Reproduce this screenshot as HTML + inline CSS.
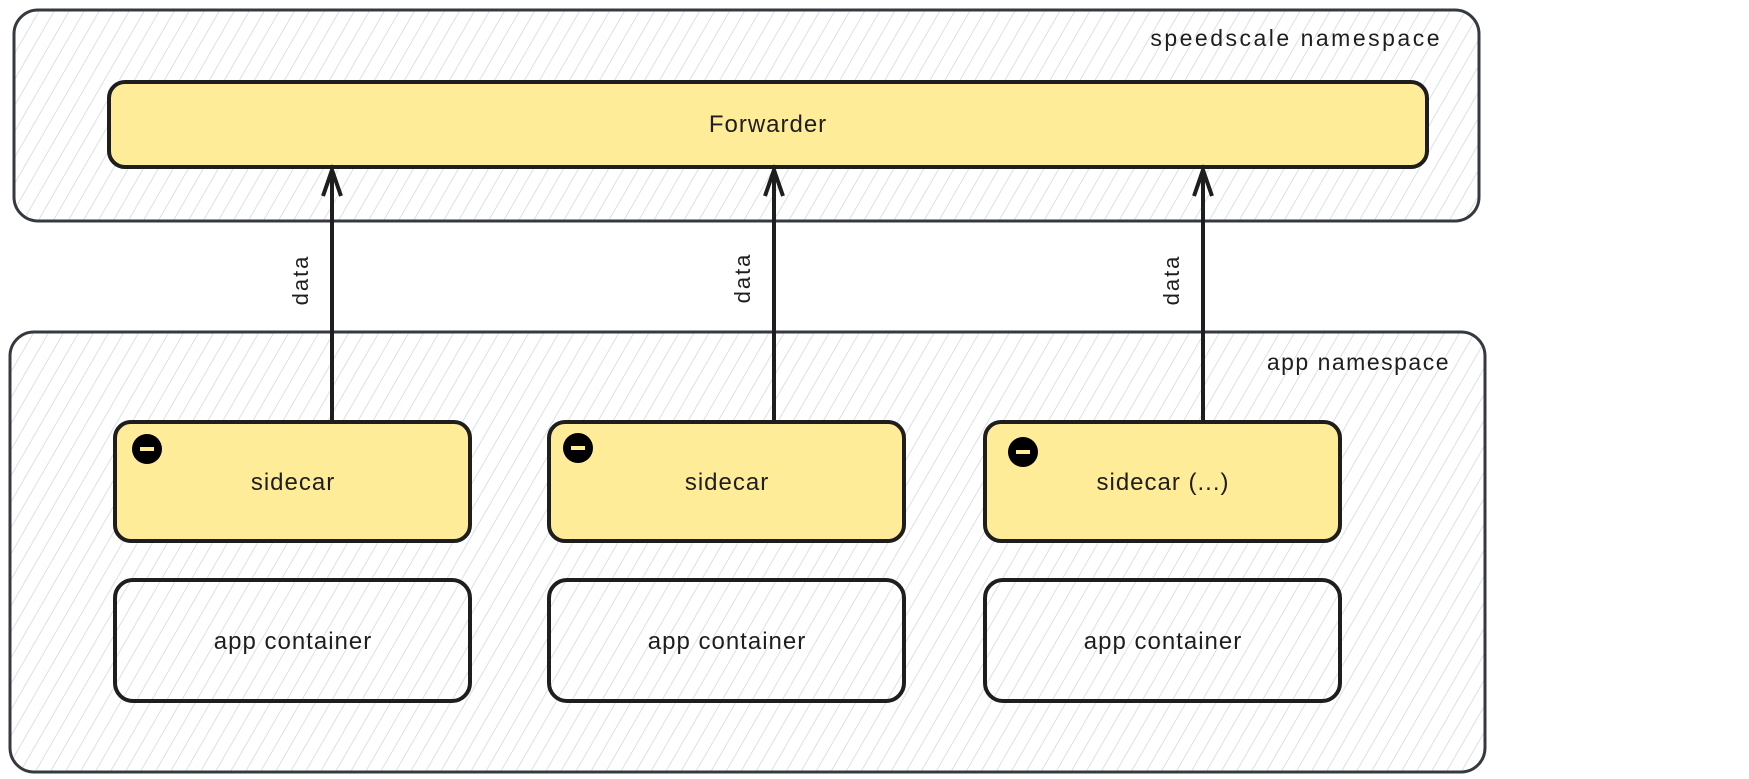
<!DOCTYPE html>
<html><head><meta charset="utf-8"><style>
html,body{margin:0;padding:0;background:#fff;}
svg{display:block;}
text{font-family:"Liberation Sans",sans-serif;fill:#1e1e1e;}
</style></head><body>
<svg width="1749" height="779" viewBox="0 0 1749 779" xmlns="http://www.w3.org/2000/svg">
<defs>
<pattern id="h" patternUnits="userSpaceOnUse" width="13" height="13" patternTransform="rotate(30)">
<line x1="0" y1="0" x2="0" y2="13" stroke="#d4d8dc" stroke-width="1.6"/>
</pattern>
</defs>
<g stroke="#343a40" stroke-width="3">
<rect x="14" y="10" width="1465" height="211" rx="24" fill="url(#h)"/>
<rect x="10" y="332" width="1475" height="440" rx="24" fill="url(#h)"/>
</g>
<text x="1442" y="46" font-size="23" text-anchor="end" letter-spacing="2.5">speedscale namespace</text>
<text x="1450" y="370" font-size="23" text-anchor="end" letter-spacing="1.5">app namespace</text>
<rect x="109" y="82" width="1318" height="85" rx="16" fill="#ffec99" stroke="#1e1e1e" stroke-width="4"/>
<text x="768" y="132" font-size="24" text-anchor="middle" letter-spacing="1">Forwarder</text>
<g stroke="#1e1e1e" stroke-width="4" fill="none">
<line x1="332" y1="420" x2="332" y2="172"/><polyline points="323,196 332,170 341,196"/>
<line x1="774" y1="420" x2="774" y2="172"/><polyline points="765,196 774,170 783,196"/>
<line x1="1203" y1="420" x2="1203" y2="172"/><polyline points="1194,196 1203,170 1212,196"/>
</g>
<text transform="translate(308,280) rotate(-90)" font-size="22" text-anchor="middle" letter-spacing="2">data</text>
<text transform="translate(750,278) rotate(-90)" font-size="22" text-anchor="middle" letter-spacing="2">data</text>
<text transform="translate(1179,280) rotate(-90)" font-size="22" text-anchor="middle" letter-spacing="2">data</text>
<g stroke="#1e1e1e" stroke-width="4">
<rect x="115" y="422" width="355" height="119" rx="16" fill="#ffec99"/>
<rect x="549" y="422" width="355" height="119" rx="16" fill="#ffec99"/>
<rect x="985" y="422" width="355" height="119" rx="16" fill="#ffec99"/>
<rect x="115" y="580" width="355" height="121" rx="18" fill="none"/>
<rect x="549" y="580" width="355" height="121" rx="18" fill="none"/>
<rect x="985" y="580" width="355" height="121" rx="18" fill="none"/>
</g>
<g>
<circle cx="147" cy="449" r="15" fill="#000"/><rect x="140" y="447" width="14" height="4" fill="#ffec99"/>
<circle cx="578" cy="448" r="15" fill="#000"/><rect x="571" y="446" width="14" height="4" fill="#ffec99"/>
<circle cx="1023" cy="452" r="15" fill="#000"/><rect x="1016" y="450" width="14" height="4" fill="#ffec99"/>
</g>
<g font-size="24" text-anchor="middle" letter-spacing="1">
<text x="293" y="490">sidecar</text>
<text x="727" y="490">sidecar</text>
<text x="1163" y="490">sidecar (...)</text>
<text x="293" y="649">app container</text>
<text x="727" y="649">app container</text>
<text x="1163" y="649">app container</text>
</g>
</svg>
</body></html>
